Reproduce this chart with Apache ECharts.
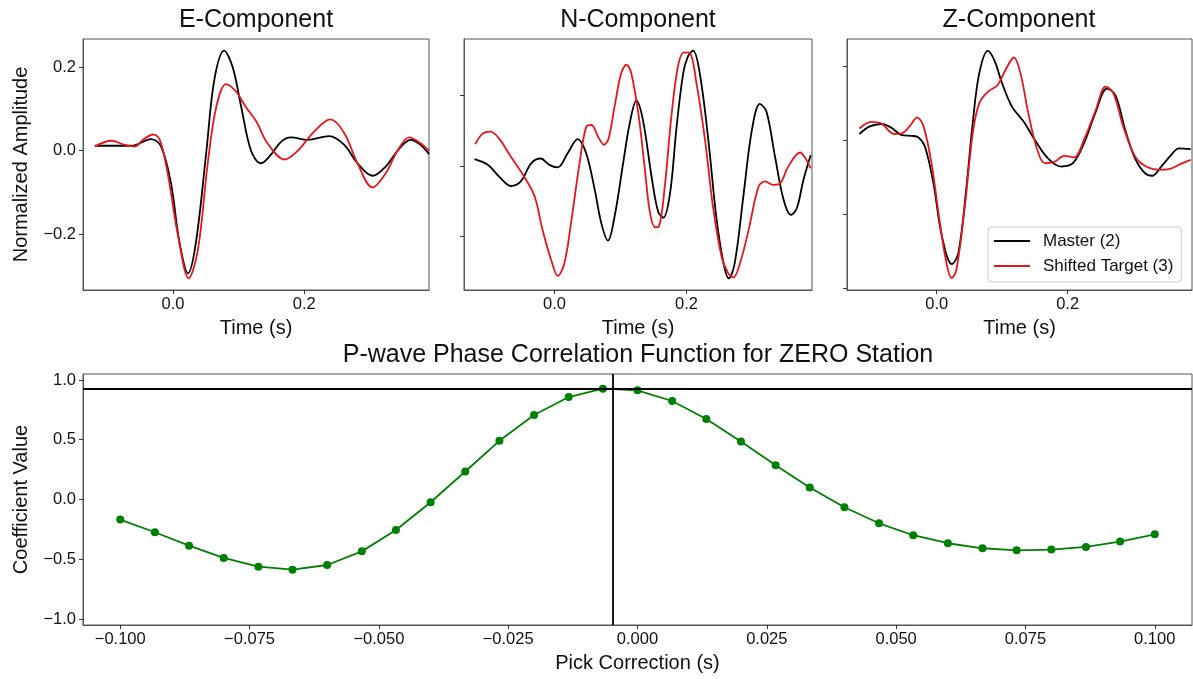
<!DOCTYPE html>
<html lang="en">
<head>
<meta charset="UTF-8">
<title>P-wave phase correlation</title>
<script src="https://cdn.jsdelivr.net/npm/echarts@6/dist/echarts.min.js"></script>
<style>
  html, body { margin: 0; padding: 0; background: #fff; }
  #chart { width: 1193px; height: 679px; }
</style>
</head>
<body>
<div id="chart"></div>
<script>
// waveforms, [time (s), normalized amplitude]
var eMaster = [[-0.119,0.012],[-0.063,0.012],[-0.033,0.028],[-0.018,0.010],[-0.003,-0.078],[0.010,-0.22],[0.023,-0.294],[0.035,-0.22],[0.051,0.0],[0.063,0.17],[0.078,0.24],[0.091,0.20],[0.104,0.105],[0.119,0.0],[0.134,-0.03],[0.149,-0.01],[0.165,0.022],[0.180,0.032],[0.205,0.026],[0.238,0.035],[0.261,0.014],[0.281,-0.03],[0.304,-0.06],[0.324,-0.038],[0.342,0.0],[0.362,0.026],[0.377,0.014],[0.390,-0.008]];
var eTarget = [[-0.119,0.010],[-0.094,0.024],[-0.073,0.014],[-0.058,0.010],[-0.046,0.026],[-0.030,0.039],[-0.020,0.026],[-0.008,-0.054],[0.008,-0.206],[0.024,-0.306],[0.038,-0.238],[0.053,-0.03],[0.066,0.105],[0.081,0.16],[0.096,0.142],[0.111,0.105],[0.127,0.07],[0.144,0.018],[0.170,-0.021],[0.190,0.0],[0.215,0.046],[0.240,0.075],[0.261,0.042],[0.281,-0.03],[0.304,-0.088],[0.324,-0.054],[0.342,0.0],[0.360,0.032],[0.377,0.018],[0.390,0.0]];

var nMaster = [[-0.121,0.019],[-0.101,0.003],[-0.084,-0.030],[-0.066,-0.057],[-0.051,-0.044],[-0.035,0.008],[-0.021,0.021],[-0.008,0.003],[0.005,-0.004],[0.020,0.036],[0.035,0.076],[0.048,0.036],[0.061,-0.068],[0.071,-0.163],[0.081,-0.212],[0.091,-0.144],[0.104,0.008],[0.114,0.121],[0.124,0.185],[0.134,0.130],[0.147,-0.030],[0.157,-0.130],[0.165,-0.147],[0.175,-0.078],[0.185,0.112],[0.195,0.263],[0.202,0.310],[0.210,0.327],[0.220,0.263],[0.233,0.074],[0.245,-0.144],[0.256,-0.276],[0.264,-0.319],[0.273,-0.276],[0.286,-0.087],[0.299,0.102],[0.311,0.176],[0.321,0.154],[0.334,0.026],[0.347,-0.096],[0.358,-0.139],[0.367,-0.120],[0.377,-0.040],[0.388,0.030]];
var nTarget = [[-0.120,0.062],[-0.109,0.091],[-0.097,0.097],[-0.084,0.078],[-0.066,0.026],[-0.046,-0.030],[-0.030,-0.087],[-0.018,-0.182],[-0.005,-0.267],[0.005,-0.312],[0.015,-0.276],[0.025,-0.163],[0.038,0.008],[0.048,0.110],[0.056,0.116],[0.066,0.083],[0.075,0.060],[0.082,0.078],[0.091,0.168],[0.101,0.263],[0.109,0.287],[0.116,0.265],[0.127,0.149],[0.137,-0.011],[0.144,-0.125],[0.152,-0.174],[0.158,-0.172],[0.167,-0.059],[0.177,0.140],[0.187,0.282],[0.196,0.322],[0.205,0.320],[0.215,0.235],[0.228,0.074],[0.240,-0.115],[0.253,-0.257],[0.263,-0.304],[0.271,-0.316],[0.281,-0.276],[0.294,-0.182],[0.309,-0.059],[0.319,-0.044],[0.331,-0.054],[0.342,-0.049],[0.354,-0.002],[0.372,0.038],[0.380,0.022],[0.388,-0.007]];

var zMaster = [[-0.118,0.018],[-0.103,0.038],[-0.085,0.045],[-0.070,0.036],[-0.053,0.015],[-0.038,0.013],[-0.028,0.009],[-0.018,-0.016],[-0.005,-0.115],[0.008,-0.259],[0.023,-0.334],[0.033,-0.305],[0.045,-0.133],[0.055,0.047],[0.065,0.182],[0.078,0.243],[0.088,0.218],[0.100,0.155],[0.115,0.092],[0.133,0.051],[0.150,0.002],[0.170,-0.048],[0.190,-0.070],[0.208,-0.061],[0.225,-0.007],[0.243,0.078],[0.260,0.141],[0.273,0.123],[0.288,0.029],[0.303,-0.048],[0.318,-0.088],[0.329,-0.095],[0.343,-0.070],[0.358,-0.039],[0.370,-0.021],[0.388,-0.023]];
var zTarget = [[-0.118,0.033],[-0.100,0.051],[-0.085,0.047],[-0.065,0.018],[-0.053,0.020],[-0.040,0.042],[-0.030,0.063],[-0.020,0.038],[-0.008,-0.061],[0.005,-0.223],[0.015,-0.332],[0.023,-0.372],[0.030,-0.350],[0.043,-0.178],[0.055,0.020],[0.065,0.101],[0.078,0.132],[0.093,0.150],[0.105,0.191],[0.118,0.225],[0.128,0.182],[0.140,0.074],[0.153,-0.021],[0.165,-0.061],[0.180,-0.057],[0.195,-0.041],[0.210,-0.045],[0.225,0.002],[0.243,0.083],[0.258,0.146],[0.270,0.128],[0.285,0.038],[0.303,-0.043],[0.320,-0.070],[0.340,-0.079],[0.355,-0.077],[0.373,-0.063],[0.388,-0.052]];

// correlation function
var lags = [-0.1,-0.0933,-0.0867,-0.08,-0.0733,-0.0667,-0.06,-0.0533,-0.0467,-0.04,-0.0333,-0.0267,-0.02,-0.0133,-0.0067,0,0.0067,0.0133,0.02,0.0267,0.0333,0.04,0.0467,0.0533,0.06,0.0667,0.0733,0.08,0.0867,0.0933,0.1];
var coefs = [-0.168,-0.274,-0.386,-0.489,-0.562,-0.587,-0.548,-0.434,-0.255,-0.023,0.234,0.491,0.707,0.857,0.927,0.913,0.824,0.673,0.486,0.287,0.100,-0.065,-0.199,-0.299,-0.366,-0.408,-0.425,-0.419,-0.397,-0.352,-0.291];
var peakShift = -0.0047;
var peakCoef = 0.93;

var timeTicks = [0, 0.2];
var ampTicksE = [-0.2, 0, 0.2];
var ampTicksN = [-0.2, 0, 0.2];
var ampTicksZ = [-0.4, -0.2, 0, 0.2];
var lagTicks = [-0.1, -0.075, -0.05, -0.025, 0, 0.025, 0.05, 0.075, 0.1];
var coefTicks = [-1, -0.5, 0, 0.5, 1];

var FONT = '"Liberation Sans", Arial, sans-serif';
var FRAME = '#555';

function fmt(d) {
  return function (v) {
    var s = Math.abs(v).toFixed(d);
    return (v < -1e-9 ? '\u2212' : '') + s;
  };
}

function xAx(idx, ticks, min, max, name, dec) {
  return {
    type: 'value', gridIndex: idx, min: min, max: max,
    name: name, nameLocation: 'middle', nameGap: 28,
    nameTextStyle: {fontFamily: FONT, fontSize: 20, color: '#111'},
    axisLine: {show: true, onZero: false, lineStyle: {color: FRAME, width: 1}},
    axisTick: {show: true, inside: false, length: 4, customValues: ticks, lineStyle: {color: '#333'}},
    axisLabel: {show: true, margin: 6, customValues: ticks, formatter: fmt(dec), fontFamily: FONT, fontSize: 16.5, color: '#111'},
    splitLine: {show: false}
  };
}

function yAx(idx, ticks, min, max, name, showLabels) {
  return {
    type: 'value', gridIndex: idx, min: min, max: max,
    name: name, nameLocation: 'middle', nameGap: 52,
    nameTextStyle: {fontFamily: FONT, fontSize: 20, color: '#111'},
    axisLine: {show: true, onZero: false, lineStyle: {color: FRAME, width: 1}},
    axisTick: {show: true, inside: false, length: 4, customValues: ticks, lineStyle: {color: '#333'}},
    axisLabel: {show: showLabels, margin: 7, customValues: ticks, formatter: fmt(1), fontFamily: FONT, fontSize: 16.5, color: '#111'},
    splitLine: {show: false}
  };
}

function wave(name, data, idx, color) {
  return {
    name: name, type: 'line', xAxisIndex: idx, yAxisIndex: idx,
    data: data, showSymbol: false, smooth: 0.35,
    lineStyle: {color: color, width: 1.8}, itemStyle: {color: color}
  };
}

var BLACK = '#000';
var RED = '#e8161b';
var tMin = -0.137, tMax = 0.39;

var grids = [
  {left: 83, top: 39, width: 346, height: 251},
  {left: 464, top: 39, width: 348, height: 251},
  {left: 847, top: 39, width: 345, height: 251},
  {left: 83, top: 374, width: 1109, height: 251}
].map(function (g) {
  g.show = true; g.borderColor = FRAME; g.borderWidth = 1; g.backgroundColor = 'transparent';
  return g;
});

var chart = echarts.init(document.getElementById('chart'));
chart.setOption({
  animation: false,
  backgroundColor: '#fff',
  title: [
    {text: 'E-Component', left: 256, top: 8, textAlign: 'center', padding: 0},
    {text: 'N-Component', left: 638, top: 8, textAlign: 'center', padding: 0},
    {text: 'Z-Component', left: 1019, top: 8, textAlign: 'center', padding: 0},
    {text: 'P-wave Phase Correlation Function for ZERO Station', left: 638, top: 343, textAlign: 'center', padding: 0}
  ].map(function (t) {
    t.textStyle = {fontFamily: FONT, fontSize: 25, fontWeight: 'normal', color: '#111'};
    return t;
  }),
  legend: {
    data: ['Master (2)', 'Shifted Target (3)'],
    orient: 'vertical', left: 988, top: 227,
    icon: 'rect', itemWidth: 36, itemHeight: 2, itemGap: 5,
    padding: [4, 8, 6, 6],
    borderColor: '#ccc', borderWidth: 1, borderRadius: 4,
    backgroundColor: 'rgba(255,255,255,0.85)',
    selectedMode: false,
    textStyle: {fontFamily: FONT, fontSize: 17, color: '#111', lineHeight: 20, padding: [0, 0, 0, 8]}
  },
  grid: grids,
  xAxis: [
    xAx(0, timeTicks, tMin, tMax, 'Time (s)', 1),
    xAx(1, timeTicks, tMin, tMax, 'Time (s)', 1),
    xAx(2, timeTicks, tMin, tMax, 'Time (s)', 1),
    xAx(3, lagTicks, -0.1072, 0.1072, 'Pick Correction (s)', 3)
  ],
  yAxis: [
    yAx(0, ampTicksE, -0.334, 0.268, 'Normalized Amplitude', true),
    yAx(1, ampTicksN, -0.352, 0.36, '', false),
    yAx(2, ampTicksZ, -0.404, 0.275, '', false),
    yAx(3, coefTicks, -1.05, 1.05, 'Coefficient Value', true)
  ],
  series: [
    wave('Master (2)', eMaster, 0, BLACK),
    wave('Shifted Target (3)', eTarget, 0, RED),
    wave('Master (2)', nMaster, 1, BLACK),
    wave('Shifted Target (3)', nTarget, 1, RED),
    wave('Master (2)', zMaster, 2, BLACK),
    wave('Shifted Target (3)', zTarget, 2, RED),
    {
      name: 'Correlation', type: 'line', xAxisIndex: 3, yAxisIndex: 3,
      data: lags.map(function (x, i) { return [x, coefs[i]]; }),
      symbol: 'circle', symbolSize: 8,
      lineStyle: {color: '#008000', width: 1.8}, itemStyle: {color: '#008000'},
      markLine: {
        silent: true, symbol: 'none', precision: 4, label: {show: false},
        lineStyle: {color: '#000', width: 1.8, type: 'solid'},
        data: [{yAxis: peakCoef}, {xAxis: peakShift}]
      }
    }
  ]
});
</script>
</body>
</html>
